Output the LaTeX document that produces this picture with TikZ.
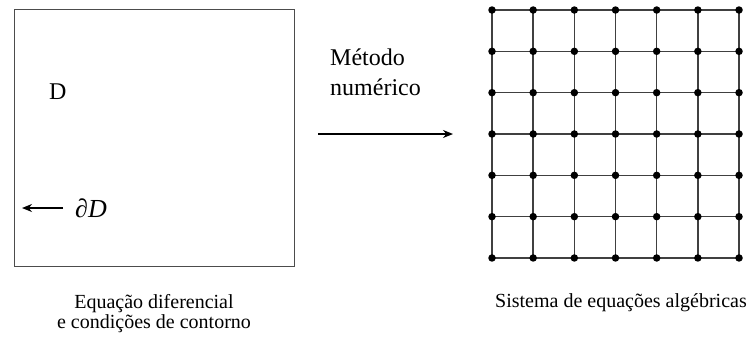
\documentclass[tikz,border=0pt]{standalone}
\usepackage{fontspec}
\setmainfont{Liberation Serif}
\usetikzlibrary{arrows.meta}
\begin{document}
\begin{tikzpicture}[x=1pt,y=-1pt,
  frame/.style={draw=black!70, line width=1.4pt},
  gridline/.style={draw=black!75, line width=1.4pt},
  dot/.style={circle, fill=black, inner sep=0pt, minimum size=7.5pt},
  arr/.style={line width=1.5pt, -{Stealth[length=10pt,width=8pt]}},
  lbl/.style={inner sep=0pt, font=\fontsize{24}{30}\selectfont},
  captext/.style={inner sep=0pt, align=center, font=\fontsize{20}{20}\selectfont}]
\useasboundingbox (0,0) rectangle (752,338);
% left domain
\node[frame, minimum width=280pt, minimum height=257pt, inner sep=0pt, anchor=north west] (dom) at (14,9) {};
\node[lbl, anchor=base west] (dlabel) at (49,99) {D};
\coordinate (bnd) at (22,208);
\coordinate (bstart) at (63,208);
\node[inner sep=0pt, anchor=base west, font=\fontsize{26}{30}\selectfont] (dD) at (75,217) {∂\textit{D}};
\draw[arr] (bstart) -- (bnd);
% method
\node[lbl, anchor=base west] (m1) at (330,65) {Método};
\node[lbl, anchor=base west] (m2) at (330,95) {numérico};
\coordinate (a1) at (318,134);
\coordinate (a2) at (453,134);
\draw[arr] (a1) -- (a2);
% grid
\foreach \i in {0,...,6} {
  \foreach \j in {0,...,6} {
    \coordinate (g\i\j) at ({492+41.17*\i},{10+41.33*\j});
  }
}
\foreach \i in {0,...,6} {
  \draw[gridline] (g\i0) -- (g\i6);
  \draw[gridline] (g0\i) -- (g6\i);
}
\foreach \i in {0,...,6} {\foreach \j in {0,...,6} {\node[dot] (d\i\j) at (g\i\j) {};}}
% captions
\node[captext, anchor=base] (c1) at (154,328) {Equação diferencial\\e condições de contorno};
\node[captext, anchor=base] (c2) at (621,307) {Sistema de equações algébricas};
\end{tikzpicture}
\end{document}
